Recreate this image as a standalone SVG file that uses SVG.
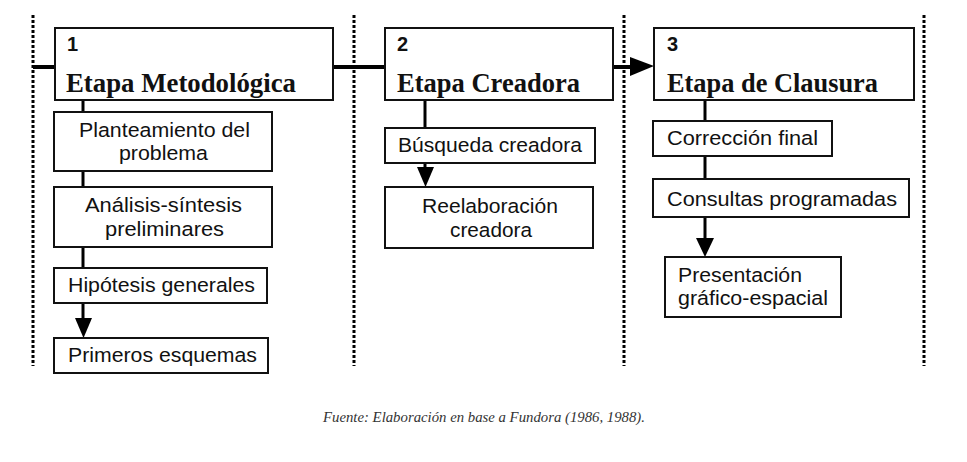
<svg xmlns="http://www.w3.org/2000/svg" width="967" height="462" viewBox="0 0 967 462">
<defs>
<style>
.dot{stroke:#000;stroke-width:3;stroke-dasharray:3 2;fill:none}
.box{fill:#fff;stroke:#111;stroke-width:2}
.ln{stroke:#000;stroke-width:3;fill:none}
.main{stroke:#000;stroke-width:4;fill:none}
.num{font-family:"Liberation Sans",Arial,sans-serif;font-weight:bold;font-size:20px;fill:#111}
.ttl{font-family:"Liberation Serif","Times New Roman",serif;font-weight:bold;font-size:27px;fill:#111}
.t{font-family:"Liberation Sans",Arial,sans-serif;font-size:20.5px;fill:#111}
.cap{font-family:"Liberation Serif","Times New Roman",serif;font-style:italic;font-size:14.5px;fill:#333}
</style>
</defs>
<rect width="967" height="462" fill="#fff"/>
<g id="dividers">
<line class="dot" x1="33" y1="15" x2="33" y2="366"/>
<line class="dot" x1="354" y1="15" x2="354" y2="366"/>
<line class="dot" x1="624" y1="15" x2="624" y2="366"/>
<line class="dot" x1="924" y1="15" x2="924" y2="366"/>
</g>
<g id="connectors">
<line class="main" x1="33" y1="67" x2="55" y2="67"/>
<line class="main" x1="333" y1="67" x2="385" y2="67"/>
<line class="main" x1="613" y1="67" x2="632" y2="67"/>
<path d="M630,57 L654,66 L630,76 z" fill="#000"/>
<line class="ln" x1="83" y1="100" x2="83" y2="112"/>
<line class="ln" x1="83" y1="171" x2="83" y2="187"/>
<line class="ln" x1="83" y1="247" x2="83" y2="268"/>
<line class="ln" x1="83" y1="303" x2="83" y2="320"/>
<path d="M75,318 L92,318 L83.5,338 z" fill="#000"/>
<line class="ln" x1="425" y1="100" x2="425" y2="128"/>
<line class="ln" x1="425" y1="163" x2="425" y2="169"/>
<path d="M417,167 L434,167 L425.5,187 z" fill="#000"/>
<line class="ln" x1="705" y1="100" x2="705" y2="121"/>
<line class="ln" x1="705" y1="156" x2="705" y2="179"/>
<line class="ln" x1="705" y1="217" x2="705" y2="240"/>
<path d="M696,238 L714,238 L705,257 z" fill="#000"/>
</g>
<g id="stage1">
<rect class="box" x="55" y="28" width="278" height="72"/>
<text class="num" x="67" y="51">1</text>
<text class="ttl" x="66" y="92" textLength="230" lengthAdjust="spacingAndGlyphs">Etapa Metodológica</text>
</g>
<g id="stage2">
<rect class="box" x="385" y="28" width="228" height="72"/>
<text class="num" x="397" y="51">2</text>
<text class="ttl" x="397" y="92" textLength="183" lengthAdjust="spacingAndGlyphs">Etapa Creadora</text>
</g>
<g id="stage3">
<rect class="box" x="654" y="28" width="260" height="72"/>
<text class="num" x="667" y="51">3</text>
<text class="ttl" x="667" y="92" textLength="211" lengthAdjust="spacingAndGlyphs">Etapa de Clausura</text>
</g>
<g id="planteamiento">
<rect class="box" x="54" y="112" width="218" height="59"/>
<text class="t" x="79" y="137" textLength="171" lengthAdjust="spacingAndGlyphs">Planteamiento del</text>
<text class="t" x="119" y="160" textLength="89" lengthAdjust="spacingAndGlyphs">problema</text>
</g>
<g id="analisis">
<rect class="box" x="54" y="187" width="218" height="60"/>
<text class="t" x="85" y="212" textLength="157" lengthAdjust="spacingAndGlyphs">Análisis-síntesis</text>
<text class="t" x="105" y="236" textLength="119" lengthAdjust="spacingAndGlyphs">preliminares</text>
</g>
<g id="hipotesis">
<rect class="box" x="54" y="268" width="213" height="35"/>
<text class="t" x="68" y="292" textLength="187" lengthAdjust="spacingAndGlyphs">Hipótesis generales</text>
</g>
<g id="primeros">
<rect class="box" x="54" y="338" width="214" height="35"/>
<text class="t" x="68" y="362" textLength="189" lengthAdjust="spacingAndGlyphs">Primeros esquemas</text>
</g>
<g id="busqueda">
<rect class="box" x="385" y="128" width="210" height="35"/>
<text class="t" x="398" y="152" textLength="184" lengthAdjust="spacingAndGlyphs">Búsqueda creadora</text>
</g>
<g id="reelaboracion">
<rect class="box" x="385" y="187" width="208" height="61"/>
<text class="t" x="422" y="213" textLength="136" lengthAdjust="spacingAndGlyphs">Reelaboración</text>
<text class="t" x="450" y="237" textLength="82" lengthAdjust="spacingAndGlyphs">creadora</text>
</g>
<g id="correccion">
<rect class="box" x="653" y="121" width="179" height="35"/>
<text class="t" x="667" y="145" textLength="151" lengthAdjust="spacingAndGlyphs">Corrección final</text>
</g>
<g id="consultas">
<rect class="box" x="653" y="179" width="256" height="38"/>
<text class="t" x="667" y="206" textLength="230" lengthAdjust="spacingAndGlyphs">Consultas programadas</text>
</g>
<g id="presentacion">
<rect class="box" x="665" y="257" width="176" height="60"/>
<text class="t" x="678" y="282" textLength="124" lengthAdjust="spacingAndGlyphs">Presentación</text>
<text class="t" x="678" y="305" textLength="150" lengthAdjust="spacingAndGlyphs">gráfico-espacial</text>
</g>
<text class="cap" x="323" y="422" textLength="322" lengthAdjust="spacingAndGlyphs">Fuente: Elaboración en base a Fundora (1986, 1988).</text>
</svg>
